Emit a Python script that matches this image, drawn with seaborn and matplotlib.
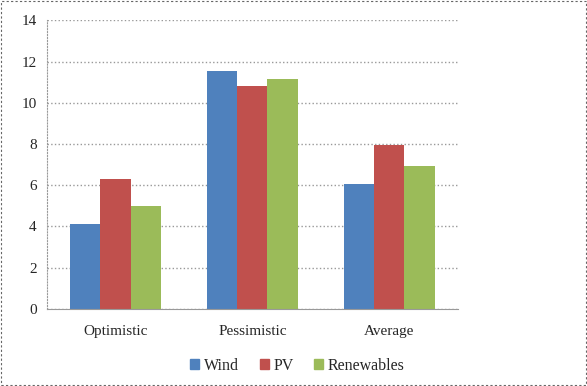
import pandas as pd
import seaborn as sns
import matplotlib.pyplot as plt
from matplotlib.patches import Rectangle

SCENARIOS = ['Optimistic', 'Pessimistic', 'Average']
SERIES = ['Wind', 'PV', 'Renewables']
WIND = [4.1, 11.55, 6.05]
PV = [6.3, 10.8, 7.95]
RENEWABLES = [5.0, 11.15, 6.95]
COLORS = {'Wind': '#4F81BD', 'PV': '#C0504D', 'Renewables': '#9BBB59'}

df = pd.DataFrame({'Scenario': SCENARIOS, 'Wind': WIND, 'PV': PV,
                   'Renewables': RENEWABLES})
long = df.melt(id_vars='Scenario', var_name='Series', value_name='Value')

sns.set_style('white')
plt.rcParams['font.family'] = ['Liberation Serif', 'DejaVu Serif']

fig = plt.figure(figsize=(5.87, 3.86), dpi=100)
ax = fig.add_axes([0.08, 0.2, 0.70, 0.747])

sns.barplot(data=long, x='Scenario', y='Value', hue='Series',
            order=SCENARIOS, hue_order=SERIES, palette=COLORS,
            width=0.66, gap=0, saturation=1, ax=ax, legend=False,
            edgecolor='none', linewidth=0)

ax.set_ylim(0, 14)
ax.set_yticks(range(0, 15, 2))
ax.set_xlabel('')
ax.set_ylabel('')
ax.grid(axis='y', color='#999999', linestyle=':', linewidth=1)
ax.set_axisbelow(True)
for s in ['top', 'right']:
    ax.spines[s].set_visible(False)
ax.spines['left'].set_color('#999999')
ax.spines['left'].set_linestyle(':')
ax.spines['bottom'].set_color('#999999')
ax.tick_params(axis='y', length=4, color='#999999', labelsize=11)
ax.tick_params(axis='x', length=0, labelsize=11, pad=12)

handles = [Rectangle((0, 0), 1, 1, color=COLORS[s]) for s in SERIES]
fig.legend(handles, SERIES, loc='center', bbox_to_anchor=(0.507, 0.052),
           ncol=3, frameon=False,
           prop={'family': ['Liberation Serif', 'DejaVu Serif'], 'size': 11.5},
           handlelength=0.55, handleheight=0.55, handletextpad=0.3,
           columnspacing=1.3)

fig.patches.append(Rectangle((0.002, 0.003), 0.996, 0.994,
                             transform=fig.transFigure, fill=False,
                             edgecolor='#666666', linestyle=(0, (2, 2)),
                             linewidth=0.8))

fig.savefig('out.png', dpi=100)
